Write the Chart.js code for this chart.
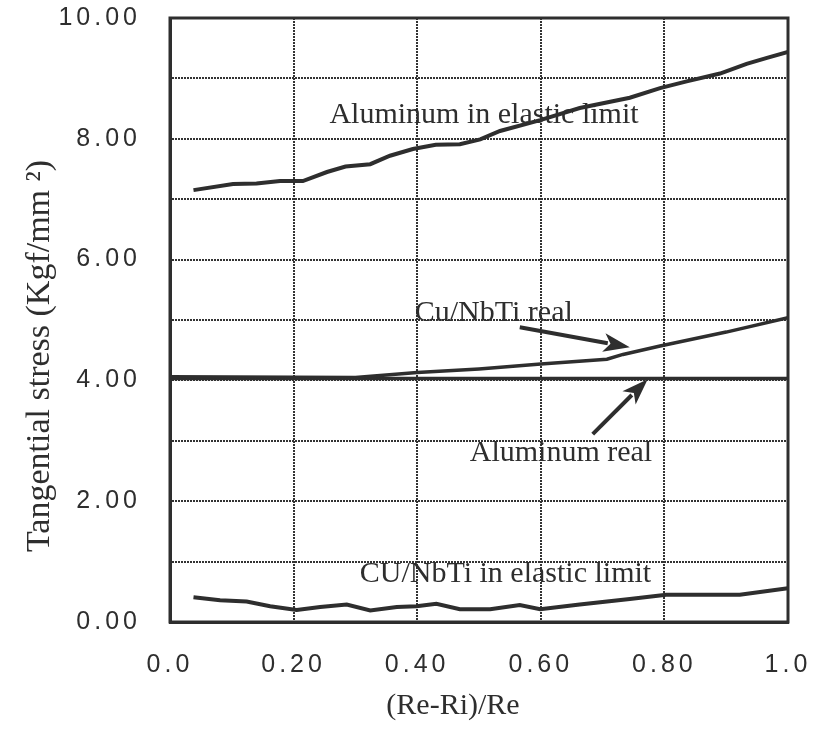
<!DOCTYPE html>
<html>
<head>
<meta charset="utf-8">
<script src="https://cdn.jsdelivr.net/npm/chart.js@4.4.1/dist/chart.umd.min.js"></script>
<style>
  body { margin: 0; background: #fff; }
  #wrap { width: 815px; height: 731px; }
</style>
</head>
<body>
<div id="wrap"><canvas id="stressChart" width="815" height="731"></canvas></div>
<script>
// values
const alElasticX = [0.038, 0.102, 0.14, 0.178, 0.215, 0.254, 0.284, 0.324, 0.356, 0.393, 0.43, 0.469, 0.502, 0.534, 0.599, 0.663, 0.744, 0.793, 0.836, 0.89, 0.933, 0.966, 1.0];
const alElasticY = [7.15, 7.25, 7.26, 7.30, 7.30, 7.45, 7.54, 7.58, 7.72, 7.83, 7.90, 7.91, 7.99, 8.13, 8.31, 8.51, 8.68, 8.84, 8.95, 9.08, 9.24, 9.34, 9.44];

const cuRealX = [0.0, 0.30, 0.40, 0.50, 0.60, 0.707, 0.733, 0.793, 0.90, 1.0];
const cuRealY = [4.06, 4.05, 4.13, 4.19, 4.27, 4.35, 4.43, 4.57, 4.80, 5.04];

const alRealX = [0.0, 0.5, 1.0];
const alRealY = [4.03, 4.03, 4.03];

const cuElasticX = [0.038, 0.081, 0.124, 0.162, 0.205, 0.243, 0.286, 0.324, 0.367, 0.399, 0.431, 0.469, 0.518, 0.566, 0.599, 0.663, 0.744, 0.803, 0.922, 1.0];
const cuElasticY = [0.41, 0.36, 0.34, 0.26, 0.20, 0.25, 0.29, 0.19, 0.25, 0.26, 0.30, 0.21, 0.21, 0.28, 0.21, 0.29, 0.38, 0.45, 0.45, 0.56];

// curve labels and arrows, in data units
const labelTexts = ["Aluminum in elastic limit", "Cu/NbTi real", "Aluminum real", "CU/NbTi in elastic limit"];
const labelX = [0.258, 0.396, 0.485, 0.307];
const labelY = [8.40, 5.12, 2.80, 0.79];
const arrowFrom = [[0.566, 4.88], [0.684, 3.11]];
const arrowTo = [[0.744, 4.55], [0.773, 4.02]];

const xTitle = "(Re-Ri)/Re";
const yTitle = "Tangential stress (Kgf/mm \u00B2)";

const ink = "#2e2e2e";
const serif = "'Liberation Serif', 'Times New Roman', serif";
const sans = "'Liberation Sans', Arial, sans-serif";

const toPoints = (xs, ys) => xs.map((x, i) => ({ x: x, y: ys[i] }));

const lineSet = (xs, ys, width) => ({
  data: toPoints(xs, ys),
  borderColor: ink,
  borderWidth: width,
  pointRadius: 0,
  tension: 0,
  fill: false,
});

// keep the plot box where the scan has it
const noPad = (s) => {
  s.paddingTop = 0;
  s.paddingBottom = 0;
  s.paddingLeft = 0;
  s.paddingRight = 0;
};

// tick labels in the scan are widely spaced
const spacing = {
  id: "spacing",
  beforeDraw(chart) { chart.ctx.letterSpacing = "4px"; },
  beforeDatasetsDraw(chart) { chart.ctx.letterSpacing = "0px"; },
};

const notes = {
  id: "notes",
  afterDatasetsDraw(chart) {
    const ctx = chart.ctx;
    const xs = chart.scales.x, ys = chart.scales.y;
    const area = chart.chartArea;
    ctx.save();
    ctx.fillStyle = ink;
    ctx.strokeStyle = ink;
    // solid frame round the plot
    ctx.lineWidth = 3;
    ctx.strokeRect(area.left, area.top, area.right - area.left, area.bottom - area.top);
    ctx.font = "30px " + serif;
    ctx.textAlign = "left";
    ctx.textBaseline = "middle";
    labelTexts.forEach((t, i) => {
      ctx.fillText(t, xs.getPixelForValue(labelX[i]), ys.getPixelForValue(labelY[i]));
    });
    ctx.lineWidth = 4;
    arrowFrom.forEach((f, i) => {
      const x1 = xs.getPixelForValue(f[0]), y1 = ys.getPixelForValue(f[1]);
      const x2 = xs.getPixelForValue(arrowTo[i][0]), y2 = ys.getPixelForValue(arrowTo[i][1]);
      const a = Math.atan2(y2 - y1, x2 - x1);
      const head = 28;
      ctx.beginPath();
      ctx.moveTo(x1, y1);
      ctx.lineTo(x2 - Math.cos(a) * head * 0.8, y2 - Math.sin(a) * head * 0.8);
      ctx.stroke();
      ctx.beginPath();
      ctx.moveTo(x2, y2);
      ctx.lineTo(x2 - head * Math.cos(a - 0.34), y2 - head * Math.sin(a - 0.34));
      ctx.lineTo(x2 - head * 0.7 * Math.cos(a), y2 - head * 0.7 * Math.sin(a));
      ctx.lineTo(x2 - head * Math.cos(a + 0.34), y2 - head * Math.sin(a + 0.34));
      ctx.closePath();
      ctx.fill();
    });
    ctx.restore();
  },
  afterDraw(chart) {
    // axis titles, placed like the scan (not centred on the axes)
    const ctx = chart.ctx;
    const area = chart.chartArea;
    ctx.save();
    ctx.letterSpacing = "0px";
    ctx.fillStyle = ink;
    ctx.font = "30px " + serif;
    ctx.textAlign = "center";
    ctx.textBaseline = "middle";
    ctx.fillText(xTitle, area.left + 283, area.bottom + 84);
    ctx.font = "34px " + serif;
    ctx.translate(area.left - 130, (area.top + area.bottom) / 2 + 36);
    ctx.rotate(-Math.PI / 2);
    ctx.fillText(yTitle, 0, 0);
    ctx.restore();
  },
};

const ctx = document.getElementById("stressChart").getContext("2d");
new Chart(ctx, {
  type: "line",
  data: {
    datasets: [
      lineSet(alElasticX, alElasticY, 4),
      lineSet(cuRealX, cuRealY, 3.5),
      lineSet(alRealX, alRealY, 3.5),
      lineSet(cuElasticX, cuElasticY, 4),
    ],
  },
  options: {
    responsive: false,
    animation: false,
    layout: { padding: { top: 18, right: 27, left: 0, bottom: 0 } },
    plugins: { legend: { display: false }, tooltip: { enabled: false } },
    scales: {
      x: {
        type: "linear",
        min: 0,
        max: 1,
        afterFit: (s) => { s.height = 109; noPad(s); },
        ticks: {
          stepSize: 0.2,
          padding: 28,
          color: ink,
          font: { family: sans, size: 25 },
          callback: (v) => (v === 0 || v === 1 ? v.toFixed(1) : v.toFixed(2)),
        },
        grid: { color: "#333", lineWidth: 2, drawTicks: false },
        border: { color: ink, width: 3, dash: [2, 1] },
      },
      y: {
        min: 0,
        max: 10,
        afterFit: (s) => { s.width = 170; noPad(s); },
        ticks: {
          stepSize: 1,
          padding: 29,
          color: ink,
          font: { family: sans, size: 25 },
          callback: (v) => (v % 2 === 0 ? v.toFixed(2) : ""),
        },
        grid: { color: "#333", lineWidth: 2, drawTicks: false },
        border: { color: ink, width: 3, dash: [2, 1] },
      },
    },
  },
  plugins: [spacing, notes],
});
</script>
</body>
</html>
